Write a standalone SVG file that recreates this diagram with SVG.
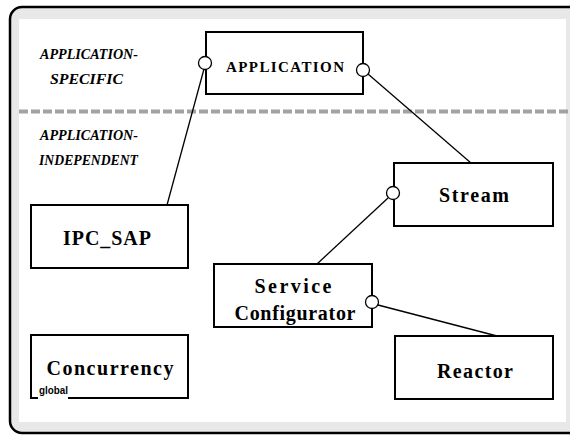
<svg xmlns="http://www.w3.org/2000/svg" width="570" height="435" viewBox="0 0 570 435">
<defs>
<style>
.box{fill:#fff;stroke:#000;stroke-width:2}
.lbl{font-family:'Liberation Serif','Times New Roman',serif;font-weight:bold;font-size:20px;fill:#000;text-anchor:middle}
.side{font-family:'Liberation Serif','Times New Roman',serif;font-weight:bold;font-style:italic;font-size:15px;fill:#000}
.conn line{stroke:#000;stroke-width:1.3}
.port{fill:#fff;stroke:#000;stroke-width:1.3}
</style>
</defs>
<rect x="10" y="7" width="580" height="426" rx="12" ry="12" fill="#e8e8e8" stroke="#000" stroke-width="2.5"/>
<rect x="19" y="19" width="547" height="403" fill="#fff"/>
<line x1="19" y1="111.5" x2="570" y2="111.5" stroke="#a2a2a2" stroke-width="4" stroke-dasharray="9 3"/>
<g id="region-labels">
<text class="side" x="40" y="59" textLength="98" lengthAdjust="spacingAndGlyphs">APPLICATION-</text>
<text class="side" x="50" y="84" textLength="73" lengthAdjust="spacingAndGlyphs">SPECIFIC</text>
<text class="side" x="40" y="140" textLength="98" lengthAdjust="spacingAndGlyphs">APPLICATION-</text>
<text class="side" x="39" y="165" textLength="99" lengthAdjust="spacingAndGlyphs">INDEPENDENT</text>
</g>
<g class="conn" id="connectors">
<line x1="204" y1="69" x2="167" y2="205"/>
<line x1="368" y1="74" x2="471" y2="163"/>
<line x1="388" y1="198" x2="317" y2="264"/>
<line x1="378" y1="305" x2="497" y2="336"/>
</g>
<g id="application">
<rect class="box" x="206" y="32" width="157" height="62"/>
<text class="lbl" x="285" y="72" style="font-size:15px" textLength="118" lengthAdjust="spacing">APPLICATION</text>
<circle class="port" cx="205" cy="63" r="6.5"/>
<circle class="port" cx="363" cy="70" r="6.5"/>
</g>
<g id="ipc_sap">
<rect class="box" x="31" y="205" width="157" height="63"/>
<text class="lbl" x="107" y="245" textLength="88" lengthAdjust="spacing">IPC_SAP</text>
</g>
<g id="stream">
<rect class="box" x="394" y="163" width="159" height="63"/>
<text class="lbl" x="474" y="202" textLength="70" lengthAdjust="spacing">Stream</text>
<circle class="port" cx="393" cy="193" r="6.5"/>
</g>
<g id="service_configurator">
<rect class="box" x="214" y="264" width="158" height="63"/>
<text class="lbl" x="293" y="293" textLength="77" lengthAdjust="spacing">Service</text>
<text class="lbl" x="295" y="320" textLength="121" lengthAdjust="spacing">Configurator</text>
<circle class="port" cx="372" cy="302" r="6.5"/>
</g>
<g id="concurrency">
<rect class="box" x="31" y="335" width="157" height="63"/>
<text class="lbl" x="110" y="375" textLength="127" lengthAdjust="spacing">Concurrency</text>
<rect x="38" y="384" width="30" height="15" fill="#fff"/>
<text x="39" y="394" font-family="'Liberation Sans', sans-serif" font-weight="bold" font-size="10" textLength="29" lengthAdjust="spacingAndGlyphs">global</text>
</g>
<g id="reactor">
<rect class="box" x="395" y="336" width="158" height="63"/>
<text class="lbl" x="475" y="378" textLength="76" lengthAdjust="spacing">Reactor</text>
</g>
</svg>
